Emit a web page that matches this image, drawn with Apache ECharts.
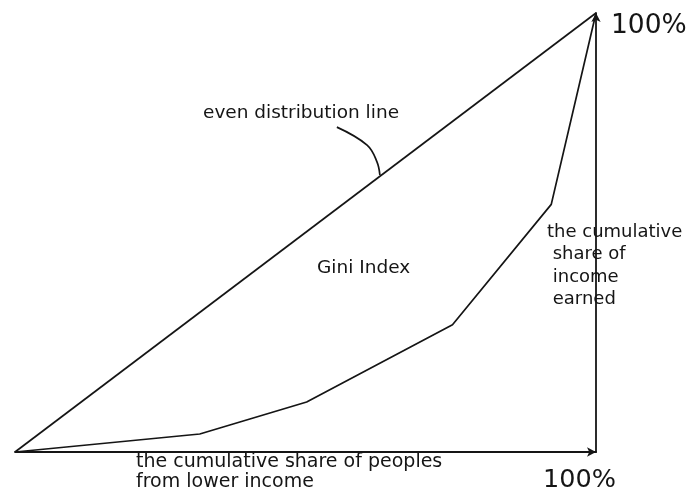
<!DOCTYPE html>
<html>
<head>
<meta charset="utf-8">
<script src="https://cdn.jsdelivr.net/npm/echarts@6/dist/echarts.min.js"></script>
<style>
  html, body { margin: 0; background: #fff; }
  #chart { width: 689px; height: 493px; }
</style>
</head>
<body>
<div id="chart"></div>
<script>
// Lorenz curve: cumulative share of people (x) vs cumulative share of income (y), in %
const peopleShare = [0, 31.8, 50.2, 75.3, 92.3, 100]
const incomeShare = [0, 4.1, 11.4, 29.0, 56.4, 100]
// even distribution (45°) line
const evenX = [0, 100]
const evenY = [0, 100]
// leader line from the "even distribution line" label to the diagonal
const pointerX = [55.4, 60.6, 62.3, 62.8]
const pointerY = [74.0, 69.9, 66.1, 63.1]

const ink = '#151515'
const font = '18px "DejaVu Sans", sans-serif'

const zip = (xs, ys) => xs.map((x, i) => [x, ys[i]])

const chart = echarts.init(document.getElementById('chart'))

const text = (x, y, str, f = font, lh = 22.5) => ({
  type: 'text',
  x, y,
  style: { text: str, font: f, fill: ink, lineHeight: lh, textVerticalAlign: 'top' },
})

chart.setOption({
  animation: false,
  grid: { left: 15, right: 93, top: 13, bottom: 41 },
  xAxis: {
    type: 'value',
    min: 0,
    max: 100,
    axisLine: { show: true, symbol: ['none', 'arrow'], symbolSize: [7, 9], lineStyle: { color: ink, width: 1.8 } },
    axisTick: { show: false },
    axisLabel: { show: false },
    splitLine: { show: false },
  },
  yAxis: {
    type: 'value',
    position: 'right',
    min: 0,
    max: 100,
    axisLine: { show: true, onZero: false, symbol: ['none', 'arrow'], symbolSize: [7, 9], lineStyle: { color: ink, width: 1.8 } },
    axisTick: { show: false },
    axisLabel: { show: false },
    splitLine: { show: false },
  },
  series: [
    {
      name: 'even distribution line',
      type: 'line',
      data: zip(evenX, evenY),
      symbol: 'none',
      lineStyle: { color: ink, width: 1.7 },
    },
    {
      name: 'Lorenz curve',
      type: 'line',
      data: zip(peopleShare, incomeShare),
      symbol: 'none',
      lineStyle: { color: ink, width: 1.7 },
    },
    {
      name: 'pointer',
      type: 'line',
      data: zip(pointerX, pointerY),
      smooth: 0.4,
      symbol: 'none',
      lineStyle: { color: ink, width: 1.7 },
    },
  ],
  graphic: [
    text(203, 102, 'even distribution line', '18.5px "DejaVu Sans", sans-serif'),
    text(317, 257, 'Gini Index', '18.5px "DejaVu Sans", sans-serif'),
    text(547, 221, 'the cumulative\n share of\n income\n earned'),
    text(136, 452, 'the cumulative share of peoples\nfrom lower income', '19px "DejaVu Sans", sans-serif', 20),
    text(611, 15, '100%', '26.5px "DejaVu Sans", sans-serif'),
    text(543, 469, '100%', '25.5px "DejaVu Sans", sans-serif'),
  ],
})
</script>
</body>
</html>
